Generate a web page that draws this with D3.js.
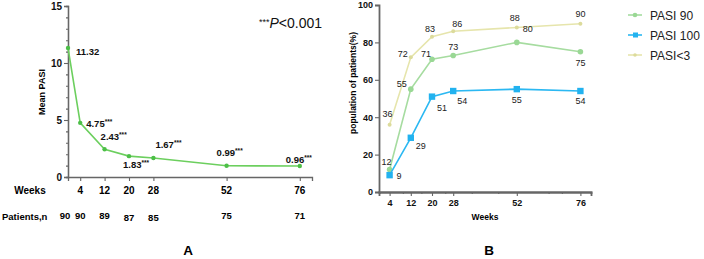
<!DOCTYPE html>
<html><head><meta charset="utf-8">
<script src="https://cdn.jsdelivr.net/npm/d3@7"></script>
<style>body{margin:0;background:#fff}svg{display:block;font-family:"Liberation Sans",Arial,sans-serif}</style>
</head><body><svg id="c" width="704" height="259"></svg>
<script>
// ---- data ----
const weeksA = [0, 4, 12, 20, 28, 52, 76];
const meanPASI = [11.32, 4.75, 2.43, 1.83, 1.67, 0.99, 0.96];
const sigA = ["", "***", "***", "***", "***", "***", "***"];
const patientsN = [90, 90, 89, 87, 85, 75, 71];
const tickWeeks = [4, 12, 20, 28, 52, 76];
const weeksB = [4, 12, 20, 28, 52, 76];
const pasi90 = [12, 55, 71, 73, 80, 75];
const pasi100 = [9, 29, 51, 54, 55, 54];
const pasiLt3 = [36, 72, 83, 86, 88, 90];
const seriesNames = ["PASI 90", "PASI 100", "PASI<3"];

const svg = d3.select("#c");
const axisCol = "#666";

// ---------- Panel A ----------
const xA = d3.scaleLinear().domain([0, 80]).range([68, 312]);
const yA = d3.scaleLinear().domain([0, 15]).range([177, 6]);
const gA = svg.append("g");
// y axis
const yAx = gA.append("g").attr("transform", "translate(68,0)")
  .call(d3.axisLeft(yA).tickValues([0,5,10,15]).tickSize(4).tickPadding(2));
gA.append("g").attr("transform", "translate(68,0)")
  .call(d3.axisLeft(yA).tickValues(d3.range(0,16).filter(v=>v%5)).tickSize(2).tickFormat(""));
const xAx = gA.append("g").attr("transform", "translate(0,177)")
  .call(d3.axisBottom(xA).tickValues(tickWeeks).tickSize(4).tickFormat(""));
gA.selectAll(".domain").attr("stroke", axisCol).attr("stroke-width", 1.3);
gA.selectAll(".tick line").attr("stroke", axisCol).attr("stroke-width", 1.1);
yAx.selectAll(".tick text").attr("font-size", 10).attr("font-weight", "bold").attr("fill", "#111");
// Weeks row
gA.append("text").attr("x", 30).attr("y", 194).attr("text-anchor", "middle")
  .attr("font-size", 10).attr("font-weight", "bold").text("Weeks");
gA.selectAll(".wk").data(tickWeeks).join("text")
  .attr("x", d => xA(d)).attr("y", 194).attr("text-anchor", "middle")
  .attr("font-size", 10).attr("font-weight", "bold").text(d => d);
// Patients row
gA.append("text").attr("x", 2).attr("y", 220).attr("font-size", 9.5)
  .attr("font-weight", "bold").text("Patients,n");
gA.selectAll(".pn").data(patientsN).join("text")
  .attr("x", (d, i) => i === 0 ? 65 : xA(weeksA[i])).attr("y", (d,i)=> [219,219,219,221,221,219,219][i])
  .attr("text-anchor", "middle").attr("font-size", 9.5).attr("font-weight", "bold").text(d => d);
// y label
gA.append("text").attr("transform", "translate(45,92) rotate(-90)").attr("text-anchor", "middle")
  .attr("font-size", 9).attr("font-weight", "bold").text("Mean PASI");
// line
const lineA = d3.line().x((d, i) => xA(weeksA[i])).y(d => yA(d));
gA.append("path").datum(meanPASI).attr("d", lineA).attr("fill", "none")
  .attr("stroke", "#6ccf5e").attr("stroke-width", 1.6);
gA.selectAll(".ptA").data(meanPASI).join("circle")
  .attr("cx", (d, i) => xA(weeksA[i])).attr("cy", d => yA(d)).attr("r", 2.2).attr("fill", "#4cbf47");
// value labels
const offA = [[8, 7], [6, 4], [-4, -9], [-6, 12], [2, -10], [-10, -10], [-14, -3]];
const labA = gA.selectAll(".labA").data(meanPASI).join("text")
  .attr("x", (d, i) => xA(weeksA[i]) + offA[i][0]).attr("y", (d, i) => yA(d) + offA[i][1])
  .attr("font-size", 9.5).attr("font-weight", "bold").attr("fill", "#111");
labA.append("tspan").text(d => d.toFixed(2));
labA.append("tspan").attr("font-size", 6.5).attr("dy", -3).text((d, i) => sigA[i]);
// p-value
const pt = gA.append("text").attr("x", 259).attr("y", 28).attr("font-size", 14).attr("fill", "#111");
pt.append("tspan").attr("font-size", 9).attr("dy", -3).text("***");
pt.append("tspan").attr("font-style", "italic").attr("dy", 3).text("P");
pt.append("tspan").text("<0.001");
gA.append("text").attr("x", 188).attr("y", 255).attr("text-anchor", "middle")
  .attr("font-size", 13.5).attr("font-weight", "bold").text("A");

// ---------- Panel B ----------
const xB = d3.scaleLinear().domain([0, 80]).range([379, 591]);
const yB = d3.scaleLinear().domain([0, 100]).range([192, 5]);
const gB = svg.append("g");
const yBx = gB.append("g").attr("transform", "translate(379,0)")
  .call(d3.axisLeft(yB).tickValues([0,20,40,60,80,100]).tickSize(4).tickPadding(2));
const xBx = gB.append("g").attr("transform", "translate(0,192)")
  .call(d3.axisBottom(xB).tickValues(tickWeeks).tickSize(4).tickPadding(4));
gB.append("g").attr("transform", "translate(0,192)")
  .call(d3.axisBottom(xB).tickValues([9, 16, 25, 35, 45, 64, 69]).tickSize(2).tickFormat(""));
gB.selectAll(".domain").attr("stroke", axisCol).attr("stroke-width", 1.8);
gB.selectAll(".tick line").attr("stroke", axisCol).attr("stroke-width", 1.1);
gB.selectAll(".tick text").attr("font-size", 9).attr("font-weight", "bold").attr("fill", "#111");
gB.append("text").attr("x", 485).attr("y", 220).attr("text-anchor", "middle")
  .attr("font-size", 8.5).attr("font-weight", "bold").text("Weeks");
gB.append("text").attr("transform", "translate(356,83) rotate(-90)").attr("text-anchor", "middle")
  .attr("font-size", 8.5).attr("font-weight", "bold").text("population of patients(%)");
gB.append("text").attr("x", 489).attr("y", 255).attr("text-anchor", "middle")
  .attr("font-size", 13.5).attr("font-weight", "bold").text("B");

const cols = ["#a6dca0", "#2bb8f2", "#e6e5ac"];
const mcols = ["#9ad895", "#22b2ef", "#dcdb9c"];
const seriesB = [pasi90, pasi100, pasiLt3];
const lineB = d3.line().x((d, i) => xB(weeksB[i])).y(d => yB(d));
// draw order: PASI<3, PASI 90, PASI 100
[2, 0, 1].forEach(k => {
  gB.append("path").datum(seriesB[k]).attr("d", lineB).attr("fill", "none")
    .attr("stroke", cols[k]).attr("stroke-width", 1.6);
  const pts = gB.selectAll(".p" + k).data(seriesB[k]).join("g")
    .attr("transform", (d, i) => `translate(${xB(weeksB[i])},${yB(d)})`);
  if (k === 0) pts.append("circle").attr("r", 2.8).attr("fill", mcols[k]);
  else if (k === 1) pts.append("rect").attr("x", -3.2).attr("y", -3.2).attr("width", 6.4).attr("height", 6.4).attr("fill", mcols[k]);
  else pts.append("circle").attr("r", 2).attr("fill", mcols[k]);
});
// value labels: [dx, dy, anchor]
const offB = [
  [[-3, -5, "middle"], [-4, -2, "end"], [-1, -2, "end"], [0, -5, "middle"], [6, -10, "start"], [0, 14, "middle"]],
  [[7, 4, "start"], [5, 11, "start"], [5, 14, "start"], [4, 13, "start"], [0, 14, "middle"], [0, 13, "middle"]],
  [[-2, -8, "middle"], [-3, 0, "end"], [-2, -5, "middle"], [4, -4, "middle"], [-2, -6, "middle"], [0, -7, "middle"]]
];
[0, 1, 2].forEach(k => {
  gB.selectAll(".l" + k).data(seriesB[k]).join("text")
    .attr("x", (d, i) => xB(weeksB[i]) + offB[k][i][0]).attr("y", (d, i) => yB(d) + offB[k][i][1])
    .attr("text-anchor", (d, i) => offB[k][i][2]).attr("font-size", 9).attr("fill", "#222").text(d => d);
});
// legend
const leg = gB.selectAll(".leg").data(seriesNames).join("g")
  .attr("transform", (d, i) => `translate(628,${15 + i * 20})`);
leg.append("line").attr("x1", 0).attr("x2", 14).attr("stroke", (d, i) => cols[i]).attr("stroke-width", 1.6);
leg.each(function (d, i) {
  const g = d3.select(this);
  if (i === 1) g.append("rect").attr("x", 5).attr("y", -2.5).attr("width", 5).attr("height", 5).attr("fill", mcols[i]);
  else g.append("circle").attr("cx", 7).attr("r", i === 0 ? 2.3 : 1.8).attr("fill", mcols[i]);
});
leg.append("text").attr("x", 22).attr("y", 4.5).attr("font-size", 12).attr("fill", "#222").text(d => d);
</script></body></html>
